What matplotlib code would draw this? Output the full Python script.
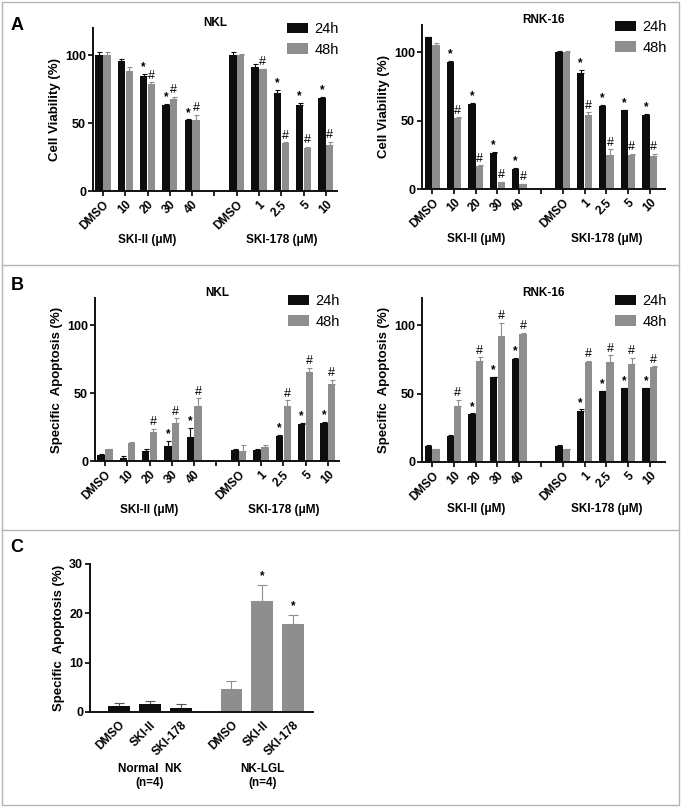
import numpy as np
import matplotlib
matplotlib.use("Agg")
import matplotlib.pyplot as plt
import matplotlib.transforms as mtrans
from matplotlib.patches import Rectangle
from matplotlib.lines import Line2D

plt.rcParams['font.family'] = ['Liberation Sans', 'DejaVu Sans']
plt.rcParams['font.weight'] = 'bold'

# ---------------- data ----------------
ski2_labels = ['DMSO', '10', '20', '30', '40']
ski178_labels = ['DMSO', '1', '2.5', '5', '10']
series_names = ['24h', '48h']

# Panel A - cell viability (%)
a_nkl_24 = [100, 95.6, 85, 63.5, 52.2, 100, 91, 72, 63.5, 68.5]
a_nkl_24_err = [2, 1.5, 1, 0.5, 0.5, 2, 2.5, 2.5, 1.5, 1]
a_nkl_48 = [100, 88.5, 79, 67.5, 52, 100, 89.5, 35, 32, 34]
a_nkl_48_err = [2, 3, 1, 2, 4, 0.5, 0.5, 0.8, 0.5, 2]
a_nkl_star = [0, 0, 1, 1, 1, 0, 0, 1, 1, 1]
a_nkl_hash = [0, 0, 1, 1, 1, 0, 1, 1, 1, 1]

a_rnk_24 = [111, 93, 62.4, 26, 15, 100.5, 85, 61, 57.5, 54.5]
a_rnk_24_err = [0.5, 0.5, 0.5, 1, 0.5, 0.5, 2, 0.5, 0.5, 0.5]
a_rnk_48 = [105, 52, 17, 5, 3.7, 100, 54, 25, 25, 24]
a_rnk_48_err = [2, 0.5, 0.3, 0.3, 0.3, 1, 2, 4, 0.5, 1.5]
a_rnk_star = [0, 1, 1, 1, 1, 0, 1, 1, 1, 1]
a_rnk_hash = [0, 1, 1, 1, 1, 0, 1, 1, 1, 1]

# Panel B - specific apoptosis (%)
b_nkl_24 = [4.4, 2.5, 7, 11, 18, 8, 8, 18.5, 27.3, 28.3]
b_nkl_24_err = [1, 1, 2, 4, 6.5, 0.5, 0.5, 1, 0.5, 0.5]
b_nkl_48 = [8.5, 13, 21, 28.3, 40.6, 7.6, 10, 40.6, 65.5, 57]
b_nkl_48_err = [0.5, 1, 2.5, 3, 5.5, 4, 2, 4, 3, 3]
b_nkl_star = [0, 0, 0, 1, 1, 0, 0, 1, 1, 1]
b_nkl_hash = [0, 0, 1, 1, 1, 0, 0, 1, 1, 1]

b_rnk_24 = [11.8, 19, 35, 62, 75.5, 11.8, 37, 51.7, 54, 54]
b_rnk_24_err = [0.5, 0.5, 0.5, 0.5, 0.5, 0.5, 1.5, 0.5, 0.5, 0.5]
b_rnk_48 = [9.3, 41, 74, 92, 94, 9.3, 73, 73, 72, 69.5]
b_rnk_48_err = [0.5, 4.5, 2.5, 10, 0.5, 0.5, 1, 5, 4, 0.5]
b_rnk_star = [0, 0, 1, 1, 1, 0, 1, 1, 1, 1]
b_rnk_hash = [0, 1, 1, 1, 1, 0, 1, 1, 1, 1]

# Panel C
c_labels = ['DMSO', 'SKI-II', 'SKI-178']
c_groups = ['Normal  NK\n(n=4)', 'NK-LGL\n(n=4)']
c_normal = [1.3, 1.6, 0.8]
c_normal_err = [0.6, 0.6, 0.9]
c_lgl = [4.7, 22.4, 17.8]
c_lgl_err = [1.6, 3.4, 1.8]
c_lgl_star = [0, 1, 1]

BLACK = '#0d0d0d'
GRAY = '#8e8e8e'
W, H = 682, 807

fig = plt.figure(figsize=(W / 100, H / 100), dpi=100)
fig.patch.set_facecolor('white')


def px_axes(x0, x1, ytop, ybot):
    return fig.add_axes([x0 / W, 1 - ybot / H, (x1 - x0) / W, (ybot - ytop) / H])


def style_axes(ax):
    for s in ['top', 'right']:
        ax.spines[s].set_visible(False)
    for s in ['left', 'bottom']:
        ax.spines[s].set_linewidth(1.4)
        ax.spines[s].set_color('#111111')
    ax.tick_params(direction='out', length=3.5, width=1.2, labelsize=9, pad=1.5)
    for t in ax.get_yticklabels():
        t.set_fontweight('bold')
    ax.set_facecolor('none')


def grouped_panel(ax, v24, e24, v48, e48, star, hash_, title, ylabel, legend_xy,
                  xlim, group_y, yticks, ylim):
    pos = np.array([0, 1, 2, 3, 4, 6, 7, 8, 9, 10], dtype=float)
    w = 0.33
    off = 0.175
    b1 = ax.bar(pos - off, v24, width=w, color=BLACK, zorder=2)
    b2 = ax.bar(pos + off, v48, width=w, color=GRAY, zorder=2)
    ax.errorbar(pos - off, v24, yerr=[np.zeros(len(v24)), e24], fmt='none',
                ecolor=BLACK, elinewidth=0.8, capsize=1.8, capthick=0.8, zorder=1)
    ax.errorbar(pos + off, v48, yerr=[np.zeros(len(v48)), e48], fmt='none',
                ecolor=GRAY, elinewidth=0.8, capsize=1.8, capthick=0.8, zorder=1)
    for i in range(len(pos)):
        if star[i]:
            ax.annotate('*', (pos[i] - off, v24[i] + e24[i]), xytext=(0, 0.5),
                        textcoords='offset points', ha='center', va='bottom',
                        fontsize=8.5, fontweight='bold')
        if hash_[i]:
            ax.annotate('#', (pos[i] + off, v48[i] + e48[i]), xytext=(0, 0.5),
                        textcoords='offset points', ha='center', va='bottom',
                        fontsize=9, fontweight='normal')
    ticks = list(range(11))
    labels = ski2_labels + [''] + ski178_labels
    ax.set_xticks(ticks)
    ax.set_xticklabels(labels, rotation=45, ha='right', rotation_mode='anchor',
                       fontsize=8.5, fontweight='bold')
    ax.set_xlim(*xlim)
    ax.set_ylim(*ylim)
    ax.set_yticks(yticks)
    style_axes(ax)
    ax.tick_params(axis='x', labelsize=8.5, pad=2)
    ax.set_title(title, fontsize=8.5, fontweight='bold', pad=0, y=1.01)
    ax.set_ylabel(ylabel, fontsize=9.5, fontweight='bold', labelpad=3)
    tr = mtrans.blended_transform_factory(ax.transData, fig.transFigure)
    ax.text(2, 1 - group_y / H, 'SKI-II (\u03bcM)', transform=tr, ha='center',
            va='center', fontsize=8.5, fontweight='bold')
    ax.text(8, 1 - group_y / H, 'SKI-178 (\u03bcM)', transform=tr, ha='center',
            va='center', fontsize=8.5, fontweight='bold')
    ax.legend([b1, b2], series_names, loc='upper left',
              bbox_to_anchor=(legend_xy[0] / W, 1 - legend_xy[1] / H),
              bbox_transform=fig.transFigure, frameon=False,
              handlelength=1.45, handleheight=0.75, handletextpad=0.45,
              labelspacing=0.45, borderaxespad=0, borderpad=0,
              prop={'size': 10.5, 'weight': 'normal'})
    return ax


# Panel A
axA1 = px_axes(93, 337, 28, 191)
grouped_panel(axA1, a_nkl_24, a_nkl_24_err, a_nkl_48, a_nkl_48_err, a_nkl_star, a_nkl_hash,
              'NKL', 'Cell Viability (%)', (287, 22), (-0.45, 10.5), 240, [0, 50, 100], (0, 120))
axA2 = px_axes(422, 665, 25, 189)
grouped_panel(axA2, a_rnk_24, a_rnk_24_err, a_rnk_48, a_rnk_48_err, a_rnk_star, a_rnk_hash,
              'RNK-16', 'Cell Viability (%)', (615, 20), (-0.47, 10.7), 239, [0, 50, 100], (0, 120))

# Panel B
axB1 = px_axes(95, 339, 298, 461)
grouped_panel(axB1, b_nkl_24, b_nkl_24_err, b_nkl_48, b_nkl_48_err, b_nkl_star, b_nkl_hash,
              'NKL', 'Specific  Apoptosis (%)', (288, 294), (-0.45, 10.5), 510, [0, 50, 100], (0, 120))
axB2 = px_axes(422, 665, 298, 462)
grouped_panel(axB2, b_rnk_24, b_rnk_24_err, b_rnk_48, b_rnk_48_err, b_rnk_star, b_rnk_hash,
              'RNK-16', 'Specific  Apoptosis (%)', (615, 294), (-0.47, 10.7), 509, [0, 50, 100], (0, 120))

# Panel C
axC = px_axes(90, 313, 564, 712)
cpos1 = np.array([0, 1, 2], dtype=float)
cpos2 = cpos1 + 3.65
cw = 0.71
axC.bar(cpos1, c_normal, width=cw, color=BLACK, zorder=2)
axC.bar(cpos2, c_lgl, width=cw, color=GRAY, zorder=2)
axC.errorbar(cpos1, c_normal, yerr=[np.zeros(3), c_normal_err], fmt='none', ecolor='#555555',
             elinewidth=0.8, capsize=3.5, capthick=0.8, zorder=1)
axC.errorbar(cpos2, c_lgl, yerr=[np.zeros(3), c_lgl_err], fmt='none', ecolor=GRAY,
             elinewidth=0.8, capsize=3.5, capthick=0.8, zorder=1)
for i in range(3):
    if c_lgl_star[i]:
        axC.annotate('*', (cpos2[i], c_lgl[i] + c_lgl_err[i]), xytext=(0, 2),
                     textcoords='offset points', ha='center', va='bottom',
                     fontsize=8.5, fontweight='bold')
axC.set_xticks(list(cpos1) + list(cpos2))
axC.set_xticklabels(c_labels + c_labels, rotation=45, ha='right', rotation_mode='anchor',
                    fontsize=8.5, fontweight='bold')
axC.set_xlim(-0.95, 6.3)
axC.set_ylim(0, 30)
axC.set_yticks([0, 10, 20, 30])
style_axes(axC)
axC.tick_params(axis='x', length=0, pad=5, labelsize=8.5)
axC.set_ylabel('Specific  Apoptosis (%)', fontsize=9.5, fontweight='bold', labelpad=3)
trC = mtrans.blended_transform_factory(axC.transData, fig.transFigure)
axC.text(1, 1 - 776 / H, c_groups[0], transform=trC, ha='center', va='center',
         fontsize=8.5, fontweight='bold', linespacing=1.15)
axC.text(cpos2[1], 1 - 776 / H, c_groups[1], transform=trC, ha='center', va='center',
         fontsize=8.5, fontweight='bold', linespacing=1.15)

# Panel letters
for letter, (lx, ly) in zip('ABC', [(17, 25), (17, 285), (17, 548)]):
    fig.text(lx / W, 1 - ly / H, letter, fontsize=13, fontweight='bold', ha='center', va='center')

# Frame lines
frame_col = '#b4b4b4'
fig.add_artist(Rectangle((2 / W, 1 - 805 / H), 677 / W, 803 / H, transform=fig.transFigure,
                         fill=False, edgecolor=frame_col, linewidth=1.0))
for yy in [265, 530]:
    fig.add_artist(Line2D([2 / W, 679 / W], [1 - yy / H, 1 - yy / H], transform=fig.transFigure,
                          color=frame_col, linewidth=1.0))

fig.savefig('out.png', dpi=100)
